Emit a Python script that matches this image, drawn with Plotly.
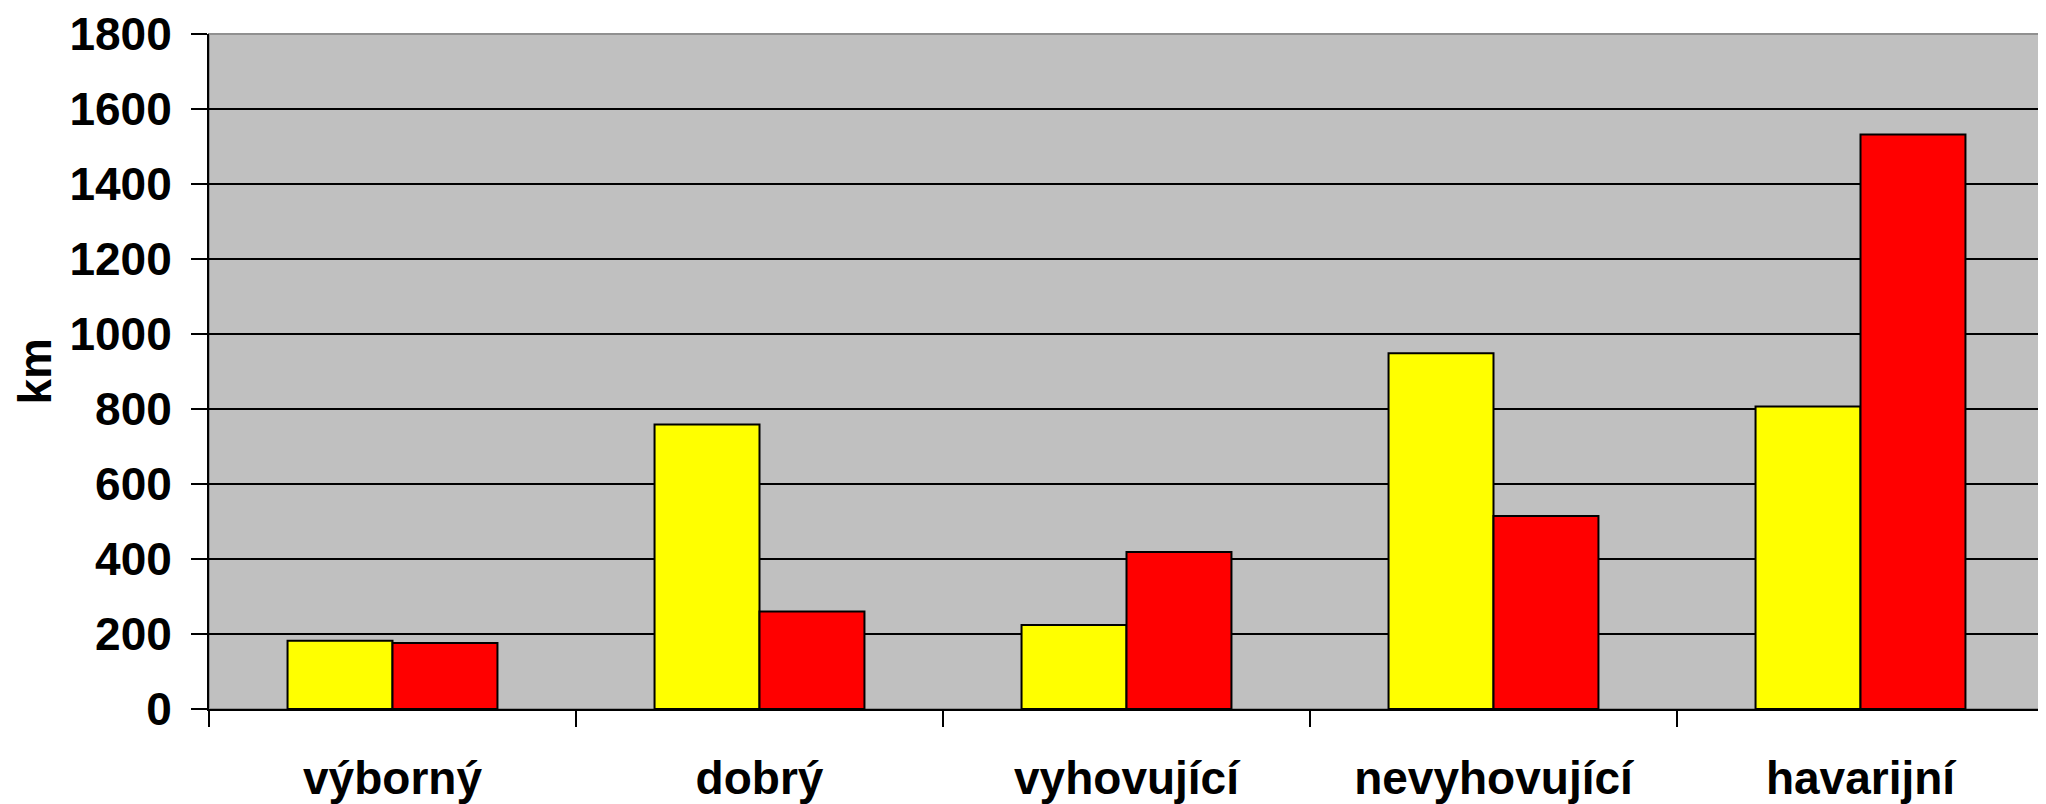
import plotly.graph_objects as go

categories = ["výborný", "dobrý", "vyhovující", "nevyhovující", "havarijní"]
series_yellow = [182, 759, 224, 949, 807]
series_red = [176, 260, 419, 515, 1532]
y_ticks = [0, 200, 400, 600, 800, 1000, 1200, 1400, 1600, 1800]

FONT = "Liberation Sans, Arial, sans-serif"

fig = go.Figure()
fig.add_trace(go.Bar(x=categories, y=series_yellow, marker=dict(color="#FFFF00", line=dict(color="black", width=2)), showlegend=False))
fig.add_trace(go.Bar(x=categories, y=series_red, marker=dict(color="#FF0000", line=dict(color="black", width=2)), showlegend=False))

fig.update_layout(
    width=2046, height=804,
    margin=dict(l=201, r=10, t=26, b=103),
    paper_bgcolor="white", plot_bgcolor="#C0C0C0",
    barmode="group", bargap=0.428, bargroupgap=0,
    font=dict(family=FONT, size=46, color="black"),
    xaxis=dict(
        type="category", tickson="boundaries", ticks="outside", ticklen=16, tickwidth=2,
        tickcolor="black", showline=True, linecolor="black", linewidth=2, automargin=False,
        showgrid=False, tickfont=dict(family=FONT, size=46, color="black", weight="bold"),
        ticklabelstandoff=28,
    ),
    yaxis=dict(
        range=[0, 1800], tickvals=y_ticks, ticks="outside", ticklen=16, tickwidth=2,
        tickcolor="black", showline=True, linecolor="black", linewidth=2, automargin=False,
        showgrid=True, gridcolor="black", gridwidth=2, zeroline=False,
        tickfont=dict(family=FONT, size=46, color="black", weight="bold"),
        ticklabelstandoff=10,
    ),
)
fig.add_shape(type="rect", xref="paper", yref="paper", x0=0, x1=1, y0=0, y1=1,
              line=dict(color="#909090", width=2), layer="below")
fig.add_annotation(text="<b>km</b>", xref="paper", yref="paper", x=(26 - 201) / 1835, y=0.5,
                   xanchor="center", yanchor="middle", textangle=-90, showarrow=False,
                   font=dict(family=FONT, size=46, color="black"))
fig.write_html("out.html")
